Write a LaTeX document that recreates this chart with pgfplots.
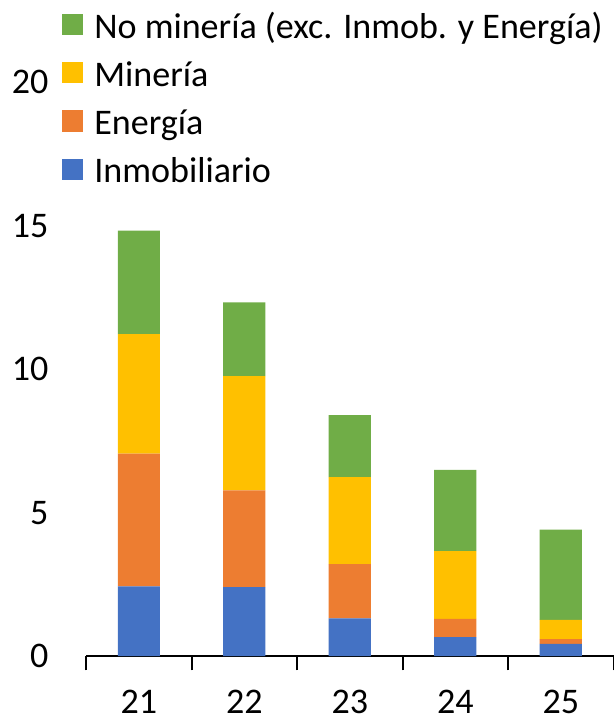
\documentclass[border=0pt]{standalone}
\usepackage{fontspec}
\setmainfont{Carlito}
\usepackage{pgfplots}
\pgfplotsset{compat=1.18}
\usepackage{pgfplotstable}

\definecolor{cnomin}{HTML}{70AD47}
\definecolor{cmin}{HTML}{FFC000}
\definecolor{cener}{HTML}{ED7D31}
\definecolor{cinmo}{HTML}{4472C4}

% x = year position, columns: inmobiliario, energia, mineria, no mineria
\pgfplotstableread{
x  inmo  ener  mine  nomin
1  2.43  4.63  4.16  3.61
2  2.41  3.37  3.98  2.57
3  1.32  1.89  3.03  2.16
4  0.67  0.63  2.36  2.83
5  0.43  0.17  0.67  3.14
}\datos

\begin{document}
\begin{tikzpicture}
\begin{axis}[
  width=395pt, height=430pt,
  scale only axis,
  ybar stacked,
  bar width=0.4,
  xmin=0.5, xmax=5.5,
  ymin=0, ymax=20,
  ytick={0,5,10,15,20},
  xtick={0.5,1.5,...,5.5},
  xticklabels={21,22,23,24,25},
  x tick label as interval,
  axis x line=bottom,
  axis y line=left,
  x axis line style={-, line width=1.5pt, black},
  y axis line style={draw=none},
  ytick style={draw=none},
  xtick style={line width=1.5pt, black},
  tick align=outside,
  major tick length=10.5pt,
  /pgf/number format/assume math mode=true,
  tick label style={font=\fontsize{27}{32}\selectfont, inner sep=0pt},
  yticklabel style={anchor=east, xshift=-17.5pt},
  xticklabel style={anchor=north, yshift=-14.5pt},
  reverse legend,
  legend cell align=left,
  legend style={
    at={(rel axis cs:0,1)}, anchor=north west,
    xshift=-17.85pt, yshift=53pt,
    draw=none, fill=none, inner sep=0pt, outer sep=0pt,
    column sep=8.25pt, row sep=0pt,
    font=\fontsize{27}{32}\selectfont,
    nodes={inner sep=0pt, text height=20pt, text depth=16pt},
  },
  legend image code/.code={
    \fill[#1] (0pt,0pt) rectangle (15.75pt,15.75pt);
  },
]
\addplot[fill=cinmo, draw=none] table[x=x, y=inmo] {\datos};
\addplot[fill=cener, draw=none] table[x=x, y=ener] {\datos};
\addplot[fill=cmin, draw=none] table[x=x, y=mine] {\datos};
\addplot[fill=cnomin, draw=none] table[x=x, y=nomin] {\datos};
\legend{Inmobiliario, Energía, Minería, No minería (exc. Inmob. y Energía)}
\coordinate (O) at (rel axis cs:0,0);
\coordinate (T) at (rel axis cs:1,1);
\end{axis}
\pgfresetboundingbox
\path ([xshift=-64.5pt, yshift=-48.5pt]O) rectangle ([yshift=61.5pt]T);
\end{tikzpicture}
\end{document}
